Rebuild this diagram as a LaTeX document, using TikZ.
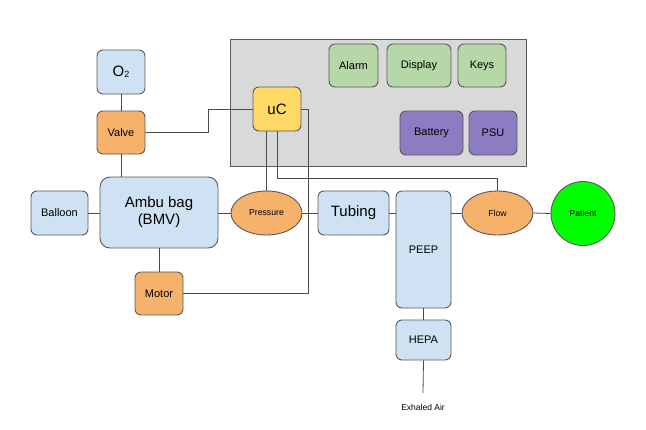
\documentclass[tikz,border=0pt]{standalone}
\usepackage{fontspec}
\setmainfont{Liberation Sans}
\usetikzlibrary{calc}
\definecolor{lblue}{HTML}{CFE2F3}
\definecolor{lorange}{HTML}{F6B26B}
\definecolor{lyellow}{HTML}{FFD966}
\definecolor{lgreen}{HTML}{B6D7A8}
\definecolor{lpurple}{HTML}{8E7CC3}
\definecolor{lgray}{HTML}{D9D9D9}
\definecolor{pgreen}{HTML}{00FF00}
\definecolor{edge}{HTML}{595959}
\definecolor{wire}{HTML}{4A4A4A}
\tikzset{
  blk/.style={draw=edge, line width=0.9pt, rounded corners=6pt, inner sep=0pt, align=center, text=black},
  bluebox/.style={blk, fill=lblue},
  orangebox/.style={blk, fill=lorange},
  greenbox/.style={blk, fill=lgreen},
  purplebox/.style={blk, fill=lpurple},
  sensor/.style={draw=edge, line width=0.9pt, ellipse, fill=lorange, inner sep=0pt, text=black},
  wireline/.style={draw=wire, line width=0.8pt},
  fsmall/.style={font=\fontsize{8.7}{10}\selectfont},
  fmid/.style={font=\fontsize{11}{13}\selectfont},
  fbig/.style={font=\fontsize{15}{17}\selectfont},
}
\usetikzlibrary{shapes.geometric}
\begin{document}
\begin{tikzpicture}[x=1pt,y=-1pt]
\useasboundingbox (0,0) rectangle (646,429);
% control panel
\node[draw=edge, line width=0.9pt, fill=lgray, minimum width=296pt, minimum height=127pt, inner sep=0pt] (panel) at (378,102.5) {};
\node[greenbox, fmid, minimum width=49pt, minimum height=43pt] (alarm) at (353.5,65.5) {Alarm};
\node[greenbox, fmid, minimum width=64pt, minimum height=43pt] (display) at (419,65.5) {Display};
\node[greenbox, fmid, minimum width=48pt, minimum height=43pt] (keys) at (482,65.5) {Keys};
\node[purplebox, fmid, minimum width=63pt, minimum height=44pt] (battery) at (431.5,133) {Battery};
\node[purplebox, fmid, minimum width=48pt, minimum height=44pt] (psu) at (493,133) {PSU};
\node[blk, fill=lyellow, fbig, minimum width=48pt, minimum height=44pt] (uc) at (277,109) {uC};
% left column
\node[bluebox, fbig, minimum width=48pt, minimum height=44pt] (o2) at (121,72) {O\raisebox{-1.5pt}{\fontsize{9}{9}\selectfont 2}};
\node[orangebox, fmid, minimum width=48pt, minimum height=43pt] (valve) at (121,132.5) {Valve};
\node[blk, fill=lblue, rounded corners=10pt, fbig, minimum width=118pt, minimum height=71pt] (ambu) at (159,212.5) {Ambu bag\\(BMV)};
\node[bluebox, fmid, minimum width=57pt, minimum height=44pt] (balloon) at (59.5,213) {Balloon};
\node[orangebox, fmid, minimum width=48pt, minimum height=43pt] (motor) at (159,293.5) {Motor};
% main line
\node[sensor, fsmall, minimum width=71pt, minimum height=44pt] (pressure) at (266.5,213) {Pressure};
\node[bluebox, fbig, minimum width=71pt, minimum height=44pt] (tubing) at (353.5,213) {Tubing};
\node[bluebox, fmid, minimum width=55pt, minimum height=117pt] (peep) at (423.5,249.5) {PEEP};
\node[bluebox, fmid, minimum width=55pt, minimum height=40pt] (hepa) at (423.5,340) {HEPA};
\node[sensor, fsmall, minimum width=71pt, minimum height=44pt] (flow) at (497.5,213) {Flow};
\node[draw=edge, line width=0.9pt, circle, fill=pgreen, minimum size=64pt, inner sep=0pt, fsmall] (patient) at (583,213.5) {Patient};
\node[font=\fontsize{8.5}{10}\selectfont, inner sep=1pt] (exh) at (423,407) {Exhaled Air};
\coordinate (exhend) at (423,393);
\coordinate (jvalve) at (208,109);
\coordinate (jflow) at (277,178);
\coordinate (jmotor) at (308,109);
% connectors
\draw[wireline] (o2) -- (valve);
\draw[wireline] (valve.south) -- (valve.south |- ambu.north);
\draw[wireline] (balloon.east) -- (balloon.east -| ambu.west);
\draw[wireline] (ambu.east |- pressure.west) -- (pressure.west);
\draw[wireline] (pressure.east) -- (tubing.west);
\draw[wireline] (tubing.east) -- (tubing.east -| peep.west);
\draw[wireline] (peep.east |- flow.west) -- (flow.west);
\draw[wireline] (flow.east) -- (patient.west);
\draw[wireline] (peep) -- (hepa);
\draw[wireline] (hepa.south) -- (exhend);
\draw[wireline] (motor.north) -- (motor.north |- ambu.south);
\draw[wireline] (valve.east) -| (jvalve) -- (uc.west);
\draw[wireline] (pressure.north) -- (pressure.north |- uc.south);
\draw[wireline] (uc.south) -- (jflow) -| (flow.north);
\draw[wireline] (uc.east) -- (jmotor) |- (motor.east);
\end{tikzpicture}
\end{document}
